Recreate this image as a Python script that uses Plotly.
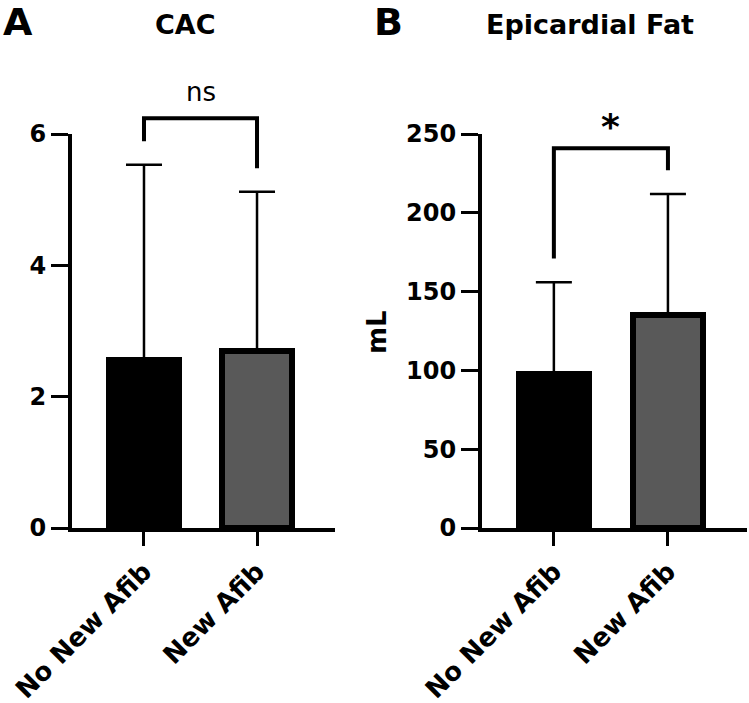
import plotly.graph_objects as go

# ---------------- data ----------------
categories = ["No New Afib", "New Afib"]
cac_mean = [2.56, 2.7]
cac_sd = [2.97, 2.42]
fat_mean = [98, 135]
fat_sd = [58, 77]
cac_ticks = [0, 2, 4, 6]
fat_ticks = [0, 50, 100, 150, 200, 250]
bar_colors = ["#000000", "#595959"]

# significance brackets (data units)
cac_bracket = {"top": 6.24, "left_end": 5.89, "right_end": 5.48, "label": "ns", "label_y": 6.64}
fat_bracket = {"top": 241, "left_end": 171, "right_end": 227, "label": "*", "label_y": 255}

W, H = 749, 703
FONT = "DejaVu Sans"

# layout geometry (paper)
A_xdom = [72 / W, 335 / W]
B_xdom = [482 / W, 747 / W]
ydom = [(H - 528) / H, (H - 134) / H]
A_xrng = [-0.637, 1.69]
B_xrng = [-0.63, 1.693]
A_yrng = [0, 6]
B_yrng = [0, 250]


def to_paper(v, dom, rng):
    return dom[0] + (v - rng[0]) / (rng[1] - rng[0]) * (dom[1] - dom[0])


fig = go.Figure()

for xa, ya, means, sds in [("x", "y", cac_mean, cac_sd), ("x2", "y2", fat_mean, fat_sd)]:
    fig.add_trace(go.Bar(
        x=[0, 1], y=means, xaxis=xa, yaxis=ya, width=0.62,
        marker=dict(color=bar_colors, line=dict(color="#000000", width=6)),
        error_y=dict(type="data", array=sds, arrayminus=[0, 0], symmetric=False,
                     color="#000000", thickness=2.5, width=18),
        showlegend=False,
    ))

axis_common = dict(showline=True, linecolor="#000000", linewidth=4, ticks="outside",
                   tickcolor="#000000", tickwidth=3, showgrid=False, zeroline=False,
                   automargin=False)
ytickfont = dict(family=FONT, size=24, color="#000000", weight="bold")
xtickfont = dict(family=FONT, size=26, color="#000000", weight="bold")

fig.update_layout(
    width=W, height=H, margin=dict(l=0, r=0, t=0, b=0, autoexpand=False),
    paper_bgcolor="white", plot_bgcolor="white", bargap=0,
    xaxis=dict(domain=A_xdom, range=A_xrng, tickvals=[0, 1], ticktext=categories,
               tickangle=-45, ticklen=14, anchor="y", tickfont=xtickfont, **axis_common),
    yaxis=dict(domain=ydom, range=A_yrng, tickvals=cac_ticks, ticklen=17, anchor="x",
               tickfont=ytickfont, **axis_common),
    xaxis2=dict(domain=B_xdom, range=B_xrng, tickvals=[0, 1], ticktext=categories,
                tickangle=-45, ticklen=14, anchor="y2", tickfont=xtickfont, **axis_common),
    yaxis2=dict(domain=ydom, range=B_yrng, tickvals=fat_ticks, ticklen=17, anchor="x2",
                tickfont=ytickfont, **axis_common),
)

shapes = []
annotations = []
for br, xdom, xrng, yrng in [(cac_bracket, A_xdom, A_xrng, A_yrng), (fat_bracket, B_xdom, B_xrng, B_yrng)]:
    xl = to_paper(0, xdom, xrng)
    xr = to_paper(1, xdom, xrng)
    yt = to_paper(br["top"], ydom, yrng)
    yl = to_paper(br["left_end"], ydom, yrng)
    yr = to_paper(br["right_end"], ydom, yrng)
    shapes.append(dict(type="path", xref="paper", yref="paper",
                       path=f"M {xl} {yl} L {xl} {yt} L {xr} {yt} L {xr} {yr}",
                       line=dict(color="#000000", width=4)))
    annotations.append(dict(xref="paper", yref="paper", x=(xl + xr) / 2,
                            y=to_paper(br["label_y"], ydom, yrng), text=br["label"],
                            showarrow=False, xanchor="center", yanchor="middle",
                            font=dict(family=FONT, size=26 if br["label"] == "ns" else 36,
                                      color="#000000",
                                      weight="normal" if br["label"] == "ns" else "bold")))

# titles and panel letters
annotations += [
    dict(x=185 / W, y=(H - 25) / H, text="CAC", font=dict(size=27)),
    dict(x=590 / W, y=(H - 25) / H, text="Epicardial Fat", font=dict(size=27)),
    dict(x=18 / W, y=(H - 22) / H, text="A", font=dict(size=38)),
    dict(x=388 / W, y=(H - 22) / H, text="B", font=dict(size=38)),
    dict(x=377 / W, y=(H - 332) / H, text="mL", textangle=-90, font=dict(size=26)),
]
for a in annotations[2:]:
    a.setdefault("xref", "paper")
    a.setdefault("yref", "paper")
    a.setdefault("showarrow", False)
    a.setdefault("xanchor", "center")
    a.setdefault("yanchor", "middle")
    a["font"].setdefault("family", FONT)
    a["font"].setdefault("color", "#000000")
    a["font"].setdefault("weight", "bold")

fig.update_layout(shapes=shapes, annotations=annotations)
fig.write_html("out.html", config={"displayModeBar": False},
               post_script="document.body.style.margin='0';")
